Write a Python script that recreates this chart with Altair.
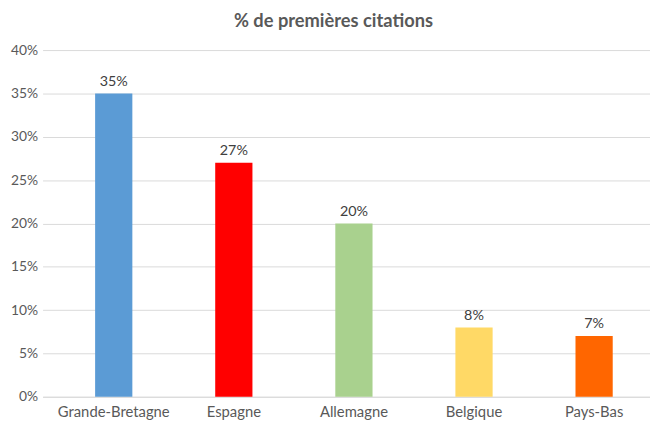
import altair as alt
import pandas as pd

countries = ["Grande-Bretagne", "Espagne", "Allemagne", "Belgique", "Pays-Bas"]
values = [0.35, 0.27, 0.20, 0.08, 0.07]
colors = ["#5B9BD5", "#FF0000", "#A9D18E", "#FFD966", "#FF6600"]
y_ticks = [0, 0.05, 0.10, 0.15, 0.20, 0.25, 0.30, 0.35, 0.40]

df = pd.DataFrame({"pays": countries, "val": values, "col": colors})

x = alt.X("pays:N", sort=countries, title=None,
          scale=alt.Scale(paddingInner=0.69, paddingOuter=0.374, align=0.585),
          axis=alt.Axis(labelAngle=0, labelFont="Lato", labelFontSize=15,
                        labelColor="#595959", labelPadding=8, ticks=False,
                        domain=True, domainColor="#D9D9D9", grid=False))
y = alt.Y("val:Q", title=None,
          scale=alt.Scale(domain=[0, 0.4], nice=False),
          axis=alt.Axis(values=y_ticks, format=".0%", labelFont="Lato",
                        labelFontSize=14, labelColor="#595959", labelPadding=5,
                        ticks=False, domain=False, gridColor="#D9D9D9",
                        gridWidth=1))

base = alt.Chart(df)
bars = base.mark_bar().encode(x=x, y=y, color=alt.Color("col:N", scale=None))
text = base.mark_text(dy=-12, font="Lato", fontSize=14.5, color="#404040").encode(
    x=alt.X("pays:N", sort=countries), y="val:Q",
    text=alt.Text("val:Q", format=".0%"))

chart = (bars + text).properties(
    width=615, height=351,
    autosize=alt.AutoSizeParams(type="none"),
    padding={"left": 35, "top": 40, "right": 0, "bottom": 27},
    title=alt.TitleParams("% de premières citations", font="Lato", fontSize=18.5,
                          fontWeight="bold", color="#595959", anchor="middle",
                          dx=-13, offset=13),
).configure_view(stroke=None)

chart.save("out.html", embed_options={"renderer": "svg", "actions": False})
